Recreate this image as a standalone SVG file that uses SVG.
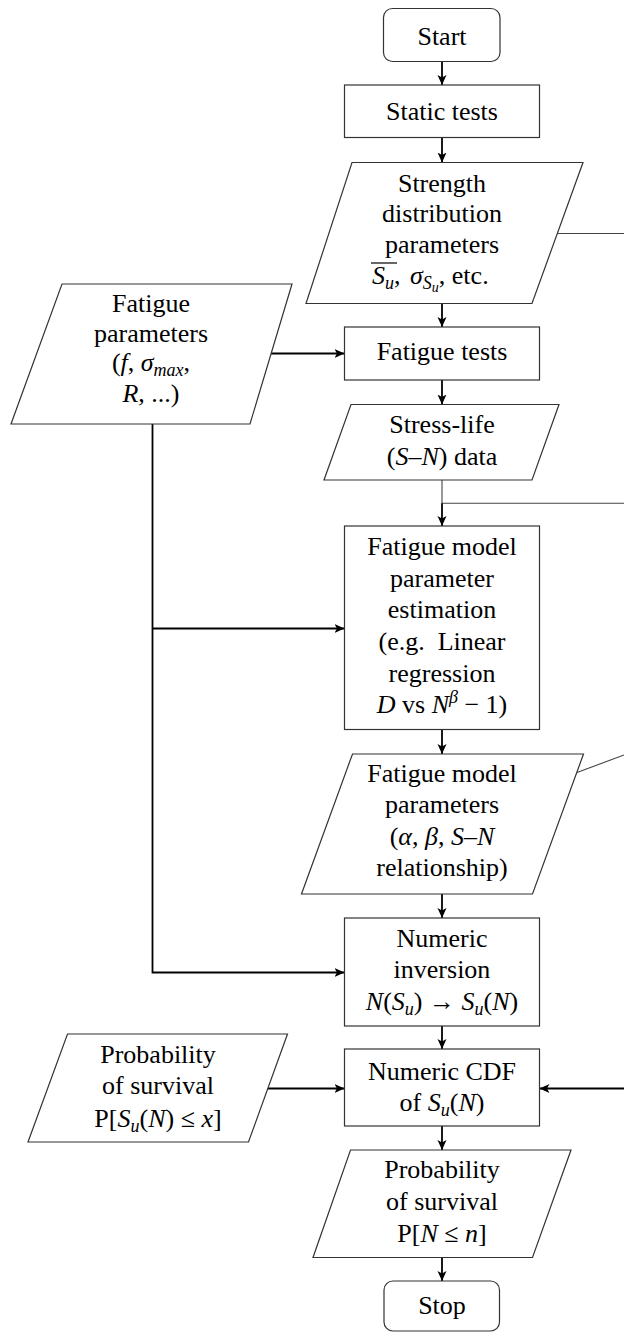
<svg xmlns="http://www.w3.org/2000/svg" width="624" height="1332" viewBox="0 0 624 1332">
<style>
.t{font-family:'Liberation Serif','DejaVu Serif',serif;font-size:26px;fill:#000;text-anchor:middle}
.ts{font-family:'Liberation Serif','DejaVu Serif',serif;font-size:26px;fill:#000;text-anchor:start}
.i{font-style:italic}
.s{font-size:18px}
.ss{font-size:14px}
.shape{fill:#fff;stroke:#333;stroke-width:1.2}
.conn{fill:none;stroke:#000;stroke-width:1.8}
.thin{fill:none;stroke:#444;stroke-width:1.1}
</style>
<defs>
<marker id="arr" markerUnits="userSpaceOnUse" markerWidth="12" markerHeight="10" refX="10" refY="4.5" orient="auto">
<path d="M0,0 L10,4.5 L0,9 L2.5,4.5 z" fill="#000"/>
</marker>
</defs>
<rect width="624" height="1332" fill="#fff"/>

<g id="connectors">
<path class="conn" d="M442,61.5 V85" marker-end="url(#arr)"/>
<path class="conn" d="M442,137.5 V162.5" marker-end="url(#arr)"/>
<path class="conn" d="M442,303.5 V327" marker-end="url(#arr)"/>
<path class="conn" d="M271,353.5 H344.5" marker-end="url(#arr)"/>
<path class="conn" d="M442,380 V404.5" marker-end="url(#arr)"/>
<path class="thin" d="M442,480 V503.3 H624"/>
<path class="conn" d="M442,503.3 V526" marker-end="url(#arr)"/>
<path class="conn" d="M152.5,424 V972.5 H344.5" marker-end="url(#arr)"/>
<path class="conn" d="M152.5,628.5 H344.5" marker-end="url(#arr)"/>
<path class="conn" d="M442,729.5 V754" marker-end="url(#arr)"/>
<path class="conn" d="M442,894 V918" marker-end="url(#arr)"/>
<path class="conn" d="M442,1026 V1049" marker-end="url(#arr)"/>
<path class="conn" d="M268,1088.5 H344.5" marker-end="url(#arr)"/>
<path class="conn" d="M624,1088.5 H539.5" marker-end="url(#arr)"/>
<path class="conn" d="M442,1126 V1150" marker-end="url(#arr)"/>
<path class="conn" d="M442,1257.5 V1281" marker-end="url(#arr)"/>
<path class="thin" d="M557.5,233.5 H624"/>
<path class="thin" d="M577,772.5 L624,755"/>
</g>

<g id="start">
<rect class="shape" x="383.5" y="8.5" width="116.5" height="53" rx="9"/>
<text class="t" x="442" y="44.5">Start</text>
</g>

<g id="static-tests">
<rect class="shape" x="344.5" y="85" width="195" height="52.5"/>
<text class="t" x="442" y="120">Static tests</text>
</g>

<g id="strength-params">
<polygon class="shape" points="352,162.5 583,162.5 532,303.5 306,303.5"/>
<text class="t"><tspan x="442" y="191.5">Strength</tspan><tspan x="442" y="222">distribution</tspan><tspan x="442" y="252.5">parameters</tspan></text>
<text class="ts" x="372" y="283.5"><tspan class="i">S</tspan><tspan class="i s" dy="5">u</tspan><tspan dy="-5">, </tspan><tspan class="i" x="410">σ</tspan><tspan class="i s" dy="5">S</tspan><tspan class="i ss" dy="3">u</tspan><tspan dy="-8">, etc.</tspan></text>
<line x1="371" y1="263" x2="397" y2="263" stroke="#000" stroke-width="1.2"/>
</g>

<g id="fatigue-params">
<polygon class="shape" points="62,284 292,284 250,424 11,424"/>
<text class="t"><tspan x="151" y="311.7">Fatigue</tspan><tspan x="151" y="341.7">parameters</tspan><tspan x="151" y="371">(<tspan class="i">f</tspan>, <tspan class="i">σ</tspan><tspan class="i s" dy="5">max</tspan><tspan dy="-5">,</tspan></tspan><tspan x="151" y="401.7"><tspan class="i">R</tspan>, ...)</tspan></text>
</g>

<g id="fatigue-tests">
<rect class="shape" x="344.5" y="327" width="195" height="53"/>
<text class="t" x="442" y="359.5">Fatigue tests</text>
</g>

<g id="stress-life">
<polygon class="shape" points="351,404.5 559,404.5 532,480 324,480"/>
<text class="t"><tspan x="442" y="433.3">Stress-life</tspan><tspan x="442" y="465">(<tspan class="i">S</tspan>–<tspan class="i">N</tspan>) data</tspan></text>
</g>

<g id="model-estimation">
<rect class="shape" x="344.5" y="526" width="195" height="203.5"/>
<text class="t"><tspan x="442" y="555">Fatigue model</tspan><tspan x="442" y="586.5">parameter</tspan><tspan x="442" y="618.3">estimation</tspan><tspan x="442" y="650">(e.g.&#160; Linear</tspan><tspan x="442" y="681.7">regression</tspan><tspan x="442" y="713.3"><tspan class="i">D</tspan> vs <tspan class="i">N</tspan><tspan class="i s" dy="-10">β</tspan><tspan dy="10"> − 1)</tspan></tspan></text>
</g>

<g id="model-params">
<polygon class="shape" points="352.5,754 583.5,754 532.5,894 301.5,894"/>
<text class="t"><tspan x="442" y="781.7">Fatigue model</tspan><tspan x="442" y="813.3">parameters</tspan><tspan x="442" y="845">(<tspan class="i">α</tspan>, <tspan class="i">β</tspan>, <tspan class="i">S</tspan>–<tspan class="i">N</tspan></tspan><tspan x="442" y="875.5">relationship)</tspan></text>
</g>

<g id="numeric-inversion">
<rect class="shape" x="344.5" y="918" width="195" height="108"/>
<text class="t"><tspan x="442" y="946.7">Numeric</tspan><tspan x="442" y="978.3">inversion</tspan><tspan x="442" y="1010"><tspan class="i">N</tspan>(<tspan class="i">S</tspan><tspan class="i s" dy="5">u</tspan><tspan dy="-5">) → </tspan><tspan class="i">S</tspan><tspan class="i s" dy="5">u</tspan><tspan dy="-5">(</tspan><tspan class="i">N</tspan>)</tspan></text>
</g>

<g id="numeric-cdf">
<rect class="shape" x="344.5" y="1049" width="195" height="77"/>
<text class="t"><tspan x="442" y="1079.7">Numeric CDF</tspan><tspan x="442" y="1111.3">of <tspan class="i">S</tspan><tspan class="i s" dy="5">u</tspan><tspan dy="-5">(</tspan><tspan class="i">N</tspan>)</tspan></text>
</g>

<g id="prob-input">
<polygon class="shape" points="67.5,1034 287.5,1034 248.5,1142 28,1142"/>
<text class="t"><tspan x="158" y="1063.3">Probability</tspan><tspan x="158" y="1094">of survival</tspan><tspan x="158" y="1126.7">P[<tspan class="i">S</tspan><tspan class="i s" dy="5">u</tspan><tspan dy="-5">(</tspan><tspan class="i">N</tspan>) ≤ <tspan class="i">x</tspan>]</tspan></text>
</g>

<g id="prob-output">
<polygon class="shape" points="350.5,1150 571,1150 532.5,1257.5 313,1257.5"/>
<text class="t"><tspan x="442" y="1178.3">Probability</tspan><tspan x="442" y="1210">of survival</tspan><tspan x="442" y="1241.7">P[<tspan class="i">N</tspan> ≤ <tspan class="i">n</tspan>]</tspan></text>
</g>

<g id="stop">
<rect class="shape" x="384" y="1281" width="115.5" height="50" rx="9"/>
<text class="t" x="442" y="1313.5">Stop</text>
</g>
</svg>
